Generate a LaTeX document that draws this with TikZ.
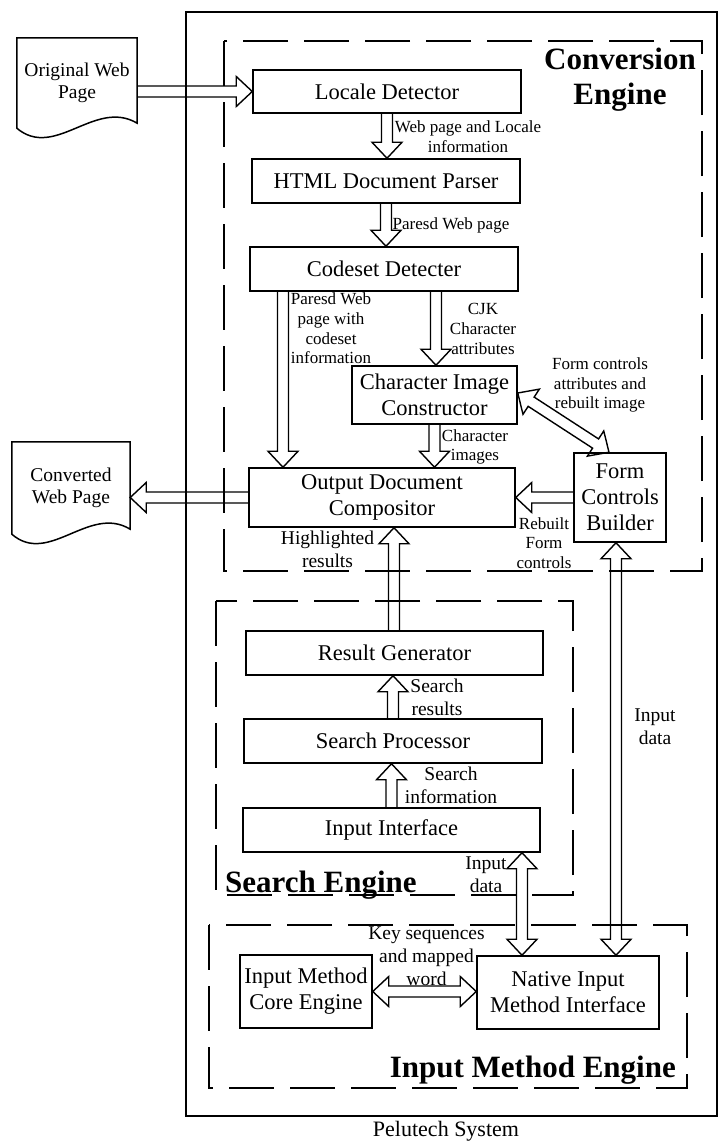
\documentclass[tikz,border=0pt]{standalone}
\usepackage{fontspec}
\setmainfont{Liberation Serif}
\usetikzlibrary{calc}

\tikzset{
  frame/.style={draw, line width=1.5pt},
  box/.style={draw, line width=1.5pt, align=center, inner sep=2pt,
    font=\fontsize{22.5}{26}\selectfont},
  doc/.style={align=center, inner sep=0pt, font=\fontsize{19.5}{22.5}\selectfont},
  lab/.style={align=center, inner sep=0pt, font=\fontsize{17}{19.7}\selectfont},
  labb/.style={align=center, inner sep=0pt, font=\fontsize{19.5}{23}\selectfont},
  title/.style={align=center, inner sep=0pt, font=\fontsize{31}{35}\selectfont\bfseries},
  group/.style={draw, line width=1.5pt, dash pattern=on 45pt off 16pt},
  fat/.style={draw, line width=1.4pt, line join=miter},
}

% hollow block arrow with one head, from #1 to #2
\newcommand\fatarrow[2]{%
  \path ($(#2)!16pt!(#1)$) coordinate (fahead);
  \draw[fat] ($(#1)!5.5pt!90:(#2)$) -- ($(fahead)!5.5pt!-90:(#1)$)
    -- ($(fahead)!15pt!-90:(#1)$) -- (#2) -- ($(fahead)!15pt!90:(#1)$)
    -- ($(fahead)!5.5pt!90:(#1)$) -- ($(#1)!5.5pt!-90:(#2)$);
}
% hollow block arrow with heads at both ends
\newcommand\fatarrows[2]{%
  \path ($(#2)!16pt!(#1)$) coordinate (fahead);
  \path ($(#1)!16pt!(#2)$) coordinate (fatail);
  \draw[fat] (#1) -- ($(fatail)!15pt!-90:(#2)$) -- ($(fatail)!5.5pt!-90:(#2)$)
    -- ($(fahead)!5.5pt!90:(#1)$) -- ($(fahead)!15pt!90:(#1)$) -- (#2)
    -- ($(fahead)!15pt!-90:(#1)$) -- ($(fahead)!5.5pt!-90:(#1)$)
    -- ($(fatail)!5.5pt!90:(#2)$) -- ($(fatail)!15pt!90:(#2)$) -- cycle;
}

\begin{document}
\begin{tikzpicture}[x=1pt,y=-1pt]
\useasboundingbox (0,0) rectangle (723,1144);

% system frame and engine groups
\draw[frame] (186,12) rectangle (717,1116);
\draw[group] (224,41) rectangle (702,571);
\draw[group] (216,601) rectangle (573,895);
\draw[group] (209,925) rectangle (687,1088);

% conversion engine
\node[box, minimum width=268pt, minimum height=43pt] (loc) at (387,91.5) {Locale Detector};
\node[box, minimum width=268pt, minimum height=44pt] (html) at (386,181) {HTML Document Parser};
\node[box, minimum width=268pt, minimum height=44pt] (cod) at (384,269) {Codeset Detecter};
\node[box, minimum width=165pt, minimum height=58pt] (cic) at (434.5,395) {Character Image\\Constructor};
\node[box, minimum width=266pt, minimum height=59pt] (odc) at (382,497.5) {Output Document\\Compositor};
\node[box, minimum width=92pt, minimum height=89pt] (fcb) at (620,497.5) {Form\\Controls\\Builder};

% search engine
\node[box, minimum width=297pt, minimum height=44pt] (rg) at (394.5,653) {Result Generator};
\node[box, minimum width=298pt, minimum height=44pt] (sp) at (393,741) {Search Processor};
\node[box, minimum width=297pt, minimum height=44pt] (ii) at (391.5,830) {Input Interface};

% input method engine
\node[box, minimum width=132pt, minimum height=73pt] (imce) at (306,991.5) {Input Method\\Core Engine};
\node[box, minimum width=182pt, minimum height=73pt] (nimi) at (568,992.5) {Native Input\\Method Interface};

% web page documents
\node[doc, minimum width=120pt, minimum height=90pt] (owp) at (77,83) {Original Web\\Page};
\draw[frame] (owp.south west) -- (owp.north west) -- (owp.north east)
  -- ($(owp.south east)+(0,-5)$)
  .. controls ($(owp.south)+(18,-30)$) and ($(owp.south)+(-22,32)$) .. (owp.south west) -- cycle;
\node[doc, minimum width=118pt, minimum height=92pt] (cwp) at (71,488) {Converted\\Web Page};
\draw[frame] (cwp.south west) -- (cwp.north west) -- (cwp.north east)
  -- ($(cwp.south east)+(0,-5)$)
  .. controls ($(cwp.south)+(18,-30)$) and ($(cwp.south)+(-22,32)$) .. (cwp.south west) -- cycle;

% connectors
\coordinate (c1) at (owp.east |- loc.west);
\fatarrow{c1}{loc.west}
\coordinate (c2) at (loc.south |- html.north);
\fatarrow{loc.south}{c2}
\coordinate (c3) at (html.south |- cod.north);
\fatarrow{html.south}{c3}
\coordinate (c4a) at ([xshift=-101pt]cod.south);
\coordinate (c4b) at (c4a |- odc.north);
\fatarrow{c4a}{c4b}
\coordinate (c5b) at ([xshift=1.5pt]cic.north);
\coordinate (c5a) at (c5b |- cod.south);
\fatarrow{c5a}{c5b}
\coordinate (c6) at (cic.south |- odc.north);
\fatarrow{cic.south}{c6}
\coordinate (c7a) at ([yshift=2pt]cic.east);
\coordinate (c7b) at ([xshift=-11pt]fcb.north);
\fatarrows{c7a}{c7b}
\coordinate (c8) at (fcb.west -| odc.east);
\fatarrow{fcb.west}{c8}
\coordinate (c9) at (odc.west -| cwp.east);
\fatarrow{odc.west}{c9}
\coordinate (c10b) at ([xshift=12pt]odc.south);
\coordinate (c10a) at (c10b |- rg.north);
\fatarrow{c10a}{c10b}
\coordinate (c11) at (sp.north |- rg.south);
\fatarrow{sp.north}{c11}
\coordinate (c12) at (ii.north |- sp.south);
\fatarrow{ii.north}{c12}
\coordinate (c13a) at ([xshift=130.5pt]ii.south);
\coordinate (c13b) at (c13a |- nimi.north);
\fatarrows{c13a}{c13b}
\coordinate (c14a) at ([xshift=-4pt]fcb.south);
\coordinate (c14b) at (c14a |- nimi.north);
\fatarrows{c14a}{c14b}
\coordinate (c15) at (imce.east -| nimi.west);
\fatarrows{imce.east}{c15}

% connector labels
\node[lab] (l1) at (468,136.5) {Web page and Locale\\information};
\node[lab] (l2) at (451,225) {Paresd Web page};
\node[lab] (l3) at (331,328.5) {Paresd Web\\page with\\codeset\\information};
\node[lab] (l4) at (483,329) {CJK\\Character\\attributes};
\node[lab] (l5) at (600,385) {Form controls\\attributes and\\rebuilt image};
\node[lab] (l6) at (475,447) {Character\\images};
\node[lab] (l7) at (544,543) {Rebuilt\\Form\\controls};
\node[labb] (l8) at (327.5,549) {Highlighted\\results};
\node[labb] (l9) at (437,697.5) {Search\\results};
\node[labb] (l10) at (451,785) {Search\\information};
\node[labb] (l11) at (486,874.5) {Input\\data};
\node[labb] (l12) at (655,727) {Input\\data};
\node[labb] (l13) at (426.5,956) {Key sequences\\and mapped\\word};

% group titles
\node[title] (t1) at (620,80) {Conversion\\Engine};
\node[title, anchor=base west] (t2) at (225,892) {Search Engine};
\node[title, anchor=base east] (t3) at (676,1077) {Input Method Engine};
\node[font=\fontsize{22}{26}\selectfont] (t4) at (446,1131) {Pelutech System};
\end{tikzpicture}
\end{document}
